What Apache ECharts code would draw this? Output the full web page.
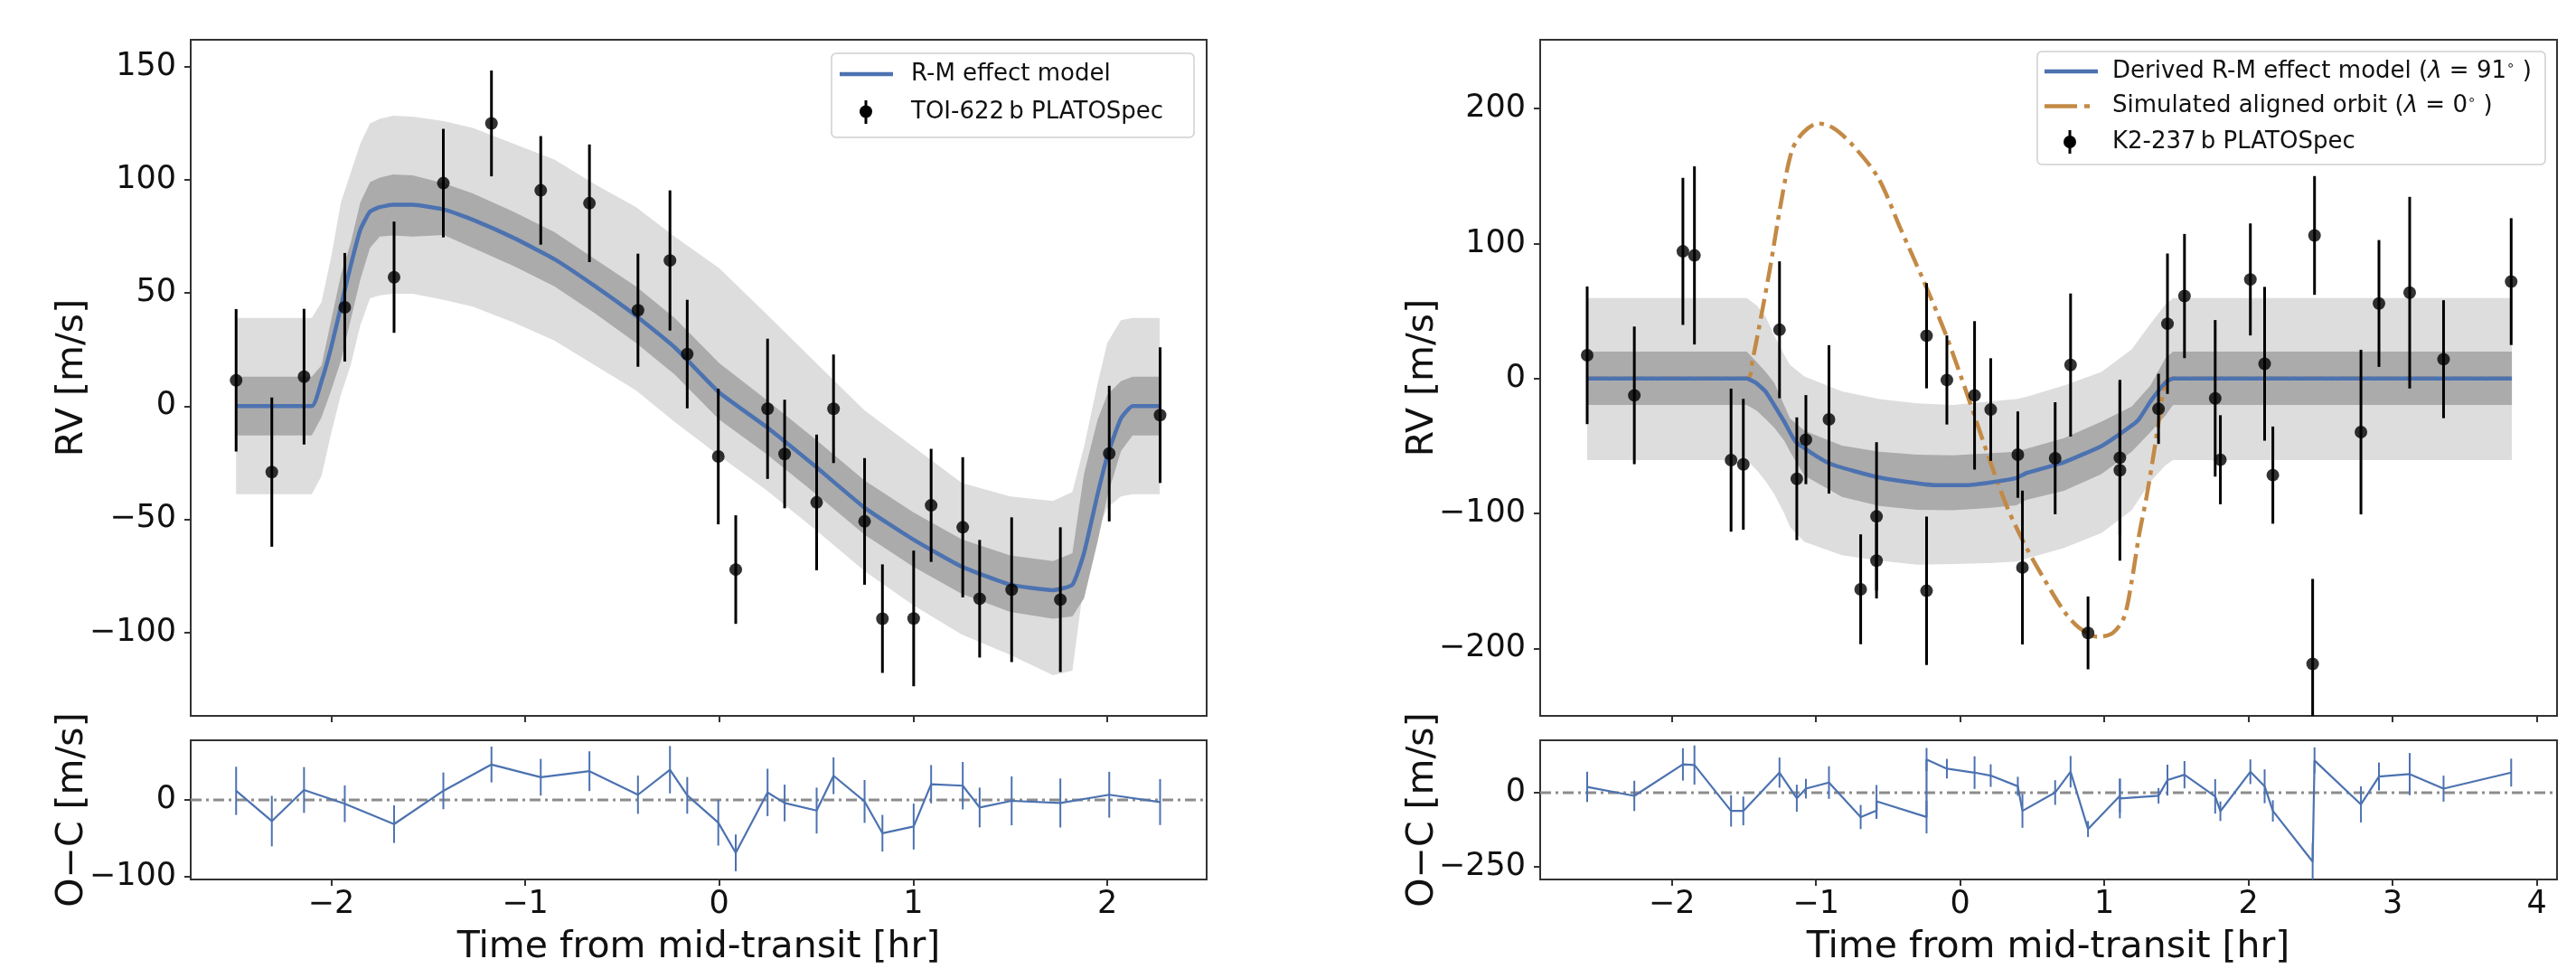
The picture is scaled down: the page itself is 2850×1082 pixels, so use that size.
<!DOCTYPE html>
<html><head><meta charset="utf-8">
<script src="https://cdn.jsdelivr.net/npm/echarts@6/dist/echarts.min.js"></script>
<style>html,body{margin:0;padding:0;background:#fff}#c{width:2850px;height:1082px}</style>
</head><body><div id="c"></div>
<script>
// ---------------- LEFT PANEL: TOI-622 b ----------------
const L_X   = [-2.49,-2.306,-2.14,-1.93,-1.676,-1.422,-1.174,-0.92,-0.669,-0.419,-0.254,-0.165,-0.005,0.085,0.249,0.337,0.502,0.589,0.749,0.841,1.002,1.092,1.255,1.342,1.507,1.758,2.01,2.272];
const L_RV  = [11.4,-29.2,13,43.7,57,98.6,125,95.4,89.7,42.4,64.4,23,-22.3,-72.3,-1.2,-21.2,-42.6,-1.2,-51,-94,-93.9,-43.9,-53.6,-85.2,-81.2,-85.6,-21,-4];
const L_ERR = [31.5,33,30,24,24.6,24,23.4,24,26,25,31,24,30,24,31,24,30,24,28,24,30,25,31,26,32,32,30,30];
const L_RES = [11.9,-27.7,13,-5,-31.6,11.9,46.3,29.7,37.6,6.8,39.5,6,-29.7,-69.2,9.8,-4,-13.9,31.6,-2,-43.5,-34.8,20.6,18.6,-9.9,-1.2,-4,6.8,-2.8];

const L_MODEL_X = [-2.49,-2.1,-2.05,-2.0,-1.95,-1.9,-1.85,-1.8,-1.75,-1.68,-1.58,-1.42,-1.27,-1.06,-0.85,-0.64,-0.43,-0.23,0.0,0.24,0.5,0.75,1.0,1.25,1.5,1.72,1.82,1.88,1.95,2.0,2.07,2.13,2.27];
const L_MODEL_Y = [0,0,11,26,44,62,78,86,88,89,89,87,82.4,74.4,65,53,40,26,6,-9,-27,-45,-59,-71,-79,-81.4,-79,-65,-39,-22,-5.5,0,0];
const L_B1_LO   = [-13,-13,-5,7,20,38,56,70,75,75.5,75,75.7,70,62,53,41,28,14,-6,-21,-39,-57,-71,-83,-91,-94,-93,-85,-60,-40,-20,-13,-13];
const L_B1_HI   = [13,13,18,38,58,72,90,99,101,102.4,102,98.5,94,86,77,65,53,39,19,3,-15,-33,-47,-59,-66,-68.5,-65,-30,-6,5,11,13,13];
const L_B2_LO   = [-39,-39,-31,-12,5,18,35.7,47.7,49,49.7,49.7,47,44,37,29,18,7,-7,-22,-37,-55,-73,-88,-101,-110,-119,-117,-78,-55,-45,-40,-39,-39];
const L_B2_HI   = [39,39,46,66,90,103,116,125,127,128.4,128,126,123,116,109,98,88,75,61,41,19,-2,-18,-34,-40,-42,-38,-18,10,28,38,39,39];

const L_XTICKS = [-2,-1,0,1,2];
const L_YTICKS = [-100,-50,0,50,100,150];
const L_RES_YTICKS = [-100,0];

// ---------------- RIGHT PANEL: K2-237 b ----------------
const R_X   = [-2.587,-2.26,-1.923,-1.843,-1.589,-1.504,-1.253,-1.133,-1.07,-0.91,-0.69,-0.58,-0.58,-0.233,-0.233,-0.092,0.1,0.212,0.4,0.432,0.659,0.766,0.887,1.108,1.108,1.376,1.438,1.556,1.769,1.805,2.013,2.112,2.169,2.445,2.458,2.78,2.905,3.118,3.353,3.822];
const R_RV  = [17.2,-12.5,94.2,91.2,-60.5,-63.6,36.1,-74.3,-45.3,-30.3,-156.2,-135,-102.2,-157.3,31.7,-1.1,-12.5,-23,-56.4,-140.1,-59.1,10,-188.5,-58.7,-68,-22.5,40.6,61.1,-14.7,-60.2,73.4,10.9,-71.6,-211.5,106,-39.7,55.6,63.6,14.3,71.8];
const R_ERR = [51,51,54.5,66,53,48.5,50.7,45.5,33,55,40.7,28,55,55,39,33,55,38,32,57,41.5,53,27,57,67,26,52,46,58,33,41.5,57,36,63,44,61,47,71,43.7,47];
const R_RES = [20,-10.4,95.7,93.6,-61,-61,68,-18.4,14,34.6,-81.6,-60,-28.7,-81.6,112,81.4,68,58,22,-61,1,71,-122,-10,-19,-10,42.8,61,-12,-62,71,22,-61,-232,109,-39,55,63,14,68];

const R_MODEL_X = [-2.587,-1.48,-1.42,-1.35,-1.22,-1.14,-0.907,-0.569,-0.179,0.05,0.211,0.389,0.461,0.721,0.981,1.11,1.234,1.32,1.424,1.476,3.827];
const R_MODEL_Y = [0,0,-3,-9.6,-32,-47,-63,-73.2,-79,-79,-77,-73.8,-70,-62,-50,-41,-31,-17,-3,0,0];

const R_BAND_X = [-2.587,-1.48,-1.41,-1.35,-1.29,-1.22,-1.18,-1.08,-0.82,-0.56,-0.3,-0.05,0.2,0.39,0.46,0.72,0.98,1.19,1.32,1.424,1.476,3.827];
const R_B2_HI  = [59.6,59.6,54,46,32,17.4,10,1.5,-9.6,-15.2,-18.5,-19.6,-17,-15.2,-13.5,-5.2,4.9,21.6,40.6,55,59.6,59.6];
const R_B2_LO  = [-60.4,-60.4,-68,-76,-85.5,-100,-110,-121,-131,-135,-137.9,-137.5,-136.8,-135.7,-133.4,-125.6,-114.5,-97.7,-76.5,-64.3,-60.4,-60.4];
const R_B1_HI  = [19.9,19.9,12,5,-3,-20,-29.7,-38.6,-49.8,-54.2,-56.5,-56.9,-55.5,-54.2,-52,-44.2,-32,-20.7,-5.2,15,19.9,19.9];
const R_B1_LO  = [-19.6,-19.6,-24,-30,-36.3,-46,-54.2,-72,-87.7,-94.4,-97.3,-97.7,-96,-94,-89.9,-83.2,-70.9,-54.2,-39.7,-27.4,-19.6,-19.6];

const R_ALIGN_X = [-2.587,-1.48,-1.44,-1.4,-1.322,-1.245,-1.167,-1.089,-0.985,-0.88,-0.75,-0.569,-0.413,-0.256,-0.1,0.056,0.2,0.331,0.461,0.591,0.721,0.825,0.955,1.059,1.137,1.19,1.24,1.293,1.345,1.384,1.424,1.476,3.827];
const R_ALIGN_Y = [0,0,14,35,79.7,128.7,168.9,182.3,189,185.6,173.4,148.8,110.9,73,32.8,-14,-59,-96.6,-125.6,-150.1,-172.5,-184.7,-191.4,-188.5,-176.9,-150.1,-116.7,-87.7,-54.2,-27.4,-3,0,0];

const R_XTICKS = [-2,-1,0,1,2,3,4];
const R_YTICKS = [-200,-100,0,100,200];
const R_RES_YTICKS = [-250,0];

// ---------------- styling ----------------
const FONT = 'DejaVu Sans';
const BLUE = '#4c72b0', ORANGE = '#c38a46', DARK = '#ababab', LIGHT = '#dddddd', AX = '#333333', TXT = '#111111';
const LX = [-2.724, 2.512], RX = [-2.913, 4.14];

const fmt = v => (v < 0 ? '\u2212' : '') + Math.abs(v);

function xAxis(gi, range, ticks, showLabels) {
  return { type: 'value', gridIndex: gi, min: range[0], max: range[1],
    axisLine: { show: true, onZero: false, lineStyle: { color: AX, width: 2 } },
    axisTick: { show: true, inside: false, length: 7, lineStyle: { color: AX, width: 2 }, customValues: ticks },
    axisLabel: { show: showLabels, customValues: ticks, margin: 10, fontSize: 35, fontFamily: FONT, color: TXT, formatter: fmt },
    splitLine: { show: false } };
}
function yAxis(gi, min, max, ticks) {
  return { type: 'value', gridIndex: gi, min: min, max: max,
    axisLine: { show: true, onZero: false, lineStyle: { color: AX, width: 2 } },
    axisTick: { show: true, inside: false, length: 7, lineStyle: { color: AX, width: 2 }, customValues: ticks },
    axisLabel: { show: true, customValues: ticks, margin: 16, fontSize: 35, fontFamily: FONT, color: TXT, formatter: fmt },
    splitLine: { show: false } };
}
function band(xs, lo, hi, color, ai, z) {
  return { type: 'custom', xAxisIndex: ai, yAxisIndex: ai, z: z, silent: true, clip: true,
    encode: { x: 0, y: 1 }, data: [[xs[0], lo[0]]],
    renderItem: function (params, api) {
      const pts = [];
      for (let i = 0; i < xs.length; i++) pts.push(api.coord([xs[i], hi[i]]));
      for (let i = xs.length - 1; i >= 0; i--) pts.push(api.coord([xs[i], lo[i]]));
      return { type: 'polygon', shape: { points: pts }, style: { fill: color } };
    } };
}
function errbars(xs, ys, es, color, width, ai, z) {
  return { type: 'custom', xAxisIndex: ai, yAxisIndex: ai, z: z, silent: true, clip: true,
    encode: { x: 0, y: 1 }, data: xs.map((x, i) => [x, ys[i], es[i]]),
    renderItem: function (params, api) {
      const x = api.value(0), y = api.value(1), e = api.value(2);
      const a = api.coord([x, y - e]), b = api.coord([x, y + e]);
      return { type: 'line', shape: { x1: a[0], y1: a[1], x2: b[0], y2: b[1] }, style: { stroke: color, lineWidth: width } };
    } };
}
function line(xs, ys, color, width, ai, z, type, smooth) {
  return { type: 'line', xAxisIndex: ai, yAxisIndex: ai, z: z, silent: true, showSymbol: false, symbol: 'none',
    smooth: smooth === undefined ? 0.15 : smooth, data: xs.map((x, i) => [x, ys[i]]), animation: false,
    lineStyle: { color: color, width: width, type: type || 'solid', cap: 'butt' } };
}
function points(xs, ys, ai, z) {
  return { type: 'scatter', xAxisIndex: ai, yAxisIndex: ai, z: z, silent: true, symbolSize: 14,
    itemStyle: { color: '#000' }, data: xs.map((x, i) => [x, ys[i]]) };
}
function zeroLine(range, ai) {
  return { type: 'line', xAxisIndex: ai, yAxisIndex: ai, z: 2, silent: true, showSymbol: false, symbol: 'none',
    data: [[range[0], 0], [range[1], 0]],
    lineStyle: { color: '#8c8c8c', width: 3, type: [12, 5, 3, 5] } };
}
const gridBase = { show: true, borderColor: AX, borderWidth: 2, backgroundColor: 'transparent', containLabel: false };

function txt(x, y, s, size, opts) {
  return Object.assign({ type: 'text', x: x, y: y, z: 100,
    style: { text: s, fontSize: size, fontFamily: FONT, fill: TXT, textAlign: 'center', textVerticalAlign: 'middle' } }, opts || {});
}
function ltxt(x, y, s) {
  return { type: 'text', x: x, y: y, z: 100, style: { text: s, rich: richL,
    fontSize: legendFont, fontFamily: FONT, fill: TXT, textAlign: 'left', textVerticalAlign: 'middle' } };
}

const legendFont = 26;
const richL = {
  it: { fontStyle: 'italic', fontSize: legendFont, fontFamily: FONT, fill: TXT },
  sup: { fontSize: 15, fontFamily: FONT, verticalAlign: 'top', padding: [0, 0, 12, 0], fill: TXT }
};

const graphic = [
  // axis titles
  txt(773, 1048, 'Time from mid-transit [hr]', 41),
  txt(2266, 1048, 'Time from mid-transit [hr]', 41),
  txt(80, 418, 'RV [m/s]', 41, { rotation: Math.PI / 2 }),
  txt(80, 896, 'O\u2212C [m/s]', 41, { rotation: Math.PI / 2 }),
  txt(1574, 418, 'RV [m/s]', 41, { rotation: Math.PI / 2 }),
  txt(1574, 896, 'O\u2212C [m/s]', 41, { rotation: Math.PI / 2 }),
  // left legend
  { type: 'rect', z: 99, shape: { x: 920, y: 59, width: 401, height: 93, r: 5 },
    style: { fill: 'rgba(255,255,255,0.85)', stroke: '#cfcfcf', lineWidth: 1.5 } },
  { type: 'line', z: 100, shape: { x1: 929, y1: 82, x2: 988, y2: 82 }, style: { stroke: BLUE, lineWidth: 4.5 } },
  { type: 'line', z: 100, shape: { x1: 958, y1: 111, x2: 958, y2: 137 }, style: { stroke: '#000', lineWidth: 3 } },
  { type: 'circle', z: 100, shape: { cx: 958, cy: 123.5, r: 7 }, style: { fill: '#000' } },
  ltxt(1008, 82, 'R-M effect model'),
  ltxt(1008, 124, 'TOI-622\u2009b PLATOSpec'),
  // right legend
  { type: 'rect', z: 99, shape: { x: 2254, y: 57, width: 562, height: 125, r: 5 },
    style: { fill: 'rgba(255,255,255,0.85)', stroke: '#cfcfcf', lineWidth: 1.5 } },
  { type: 'line', z: 100, shape: { x1: 2262, y1: 79, x2: 2321, y2: 79 }, style: { stroke: BLUE, lineWidth: 4.5 } },
  { type: 'line', z: 100, shape: { x1: 2262, y1: 117.5, x2: 2321, y2: 117.5 }, style: { stroke: ORANGE, lineWidth: 4.5, lineDash: [36, 8, 6, 20] } },
  { type: 'line', z: 100, shape: { x1: 2290, y1: 144, x2: 2290, y2: 170 }, style: { stroke: '#000', lineWidth: 3 } },
  { type: 'circle', z: 100, shape: { cx: 2290, cy: 157, r: 7 }, style: { fill: '#000' } },
  ltxt(2337, 79, 'Derived R-M effect model ({it|\u03bb} = 91{sup|\u2218} )'),
  ltxt(2337, 117.5, 'Simulated aligned orbit ({it|\u03bb} = 0{sup|\u2218} )'),
  ltxt(2337, 157, 'K2-237\u2009b PLATOSpec')
];

const option = {
  animation: false,
  backgroundColor: '#ffffff',
  grid: [
    Object.assign({ left: 211, top: 44, width: 1124, height: 748 }, gridBase),
    Object.assign({ left: 211, top: 819, width: 1124, height: 154 }, gridBase),
    Object.assign({ left: 1704, top: 44, width: 1125, height: 748 }, gridBase),
    Object.assign({ left: 1704, top: 819, width: 1125, height: 154 }, gridBase)
  ],
  xAxis: [
    xAxis(0, LX, L_XTICKS, false),
    xAxis(1, LX, L_XTICKS, true),
    xAxis(2, RX, R_XTICKS, false),
    xAxis(3, RX, R_XTICKS, true)
  ],
  yAxis: [
    yAxis(0, -137, 162, L_YTICKS),
    yAxis(1, -104, 78, L_RES_YTICKS),
    yAxis(2, -250, 251, R_YTICKS),
    yAxis(3, -292, 177, R_RES_YTICKS)
  ],
  series: [
    // left main
    band(L_MODEL_X, L_B2_LO, L_B2_HI, LIGHT, 0, 1),
    band(L_MODEL_X, L_B1_LO, L_B1_HI, DARK, 0, 2),
    line(L_MODEL_X, L_MODEL_Y, BLUE, 4.5, 0, 4),
    errbars(L_X, L_RV, L_ERR, '#000', 3, 0, 5),
    points(L_X, L_RV, 0, 6),
    // left residual
    zeroLine(LX, 1),
    errbars(L_X, L_RES, L_ERR, BLUE, 2, 1, 4),
    line(L_X, L_RES, BLUE, 2.2, 1, 5, 'solid', false),
    // right main
    band(R_BAND_X, R_B2_LO, R_B2_HI, LIGHT, 2, 1),
    band(R_BAND_X, R_B1_LO, R_B1_HI, DARK, 2, 2),
    line(R_ALIGN_X, R_ALIGN_Y, ORANGE, 4.5, 2, 3, [22, 7, 5, 7], 0.3),
    line(R_MODEL_X, R_MODEL_Y, BLUE, 4.5, 2, 4),
    errbars(R_X, R_RV, R_ERR, '#000', 3, 2, 5),
    points(R_X, R_RV, 2, 6),
    // right residual
    zeroLine(RX, 3),
    errbars(R_X, R_RES, R_ERR, BLUE, 2, 3, 4),
    line(R_X, R_RES, BLUE, 2.2, 3, 5, 'solid', false)
  ],
  graphic: graphic
};

const chart = echarts.init(document.getElementById('c'), null, { renderer: 'canvas', width: 2850, height: 1082 });
chart.setOption(option);
</script>
</body></html>
